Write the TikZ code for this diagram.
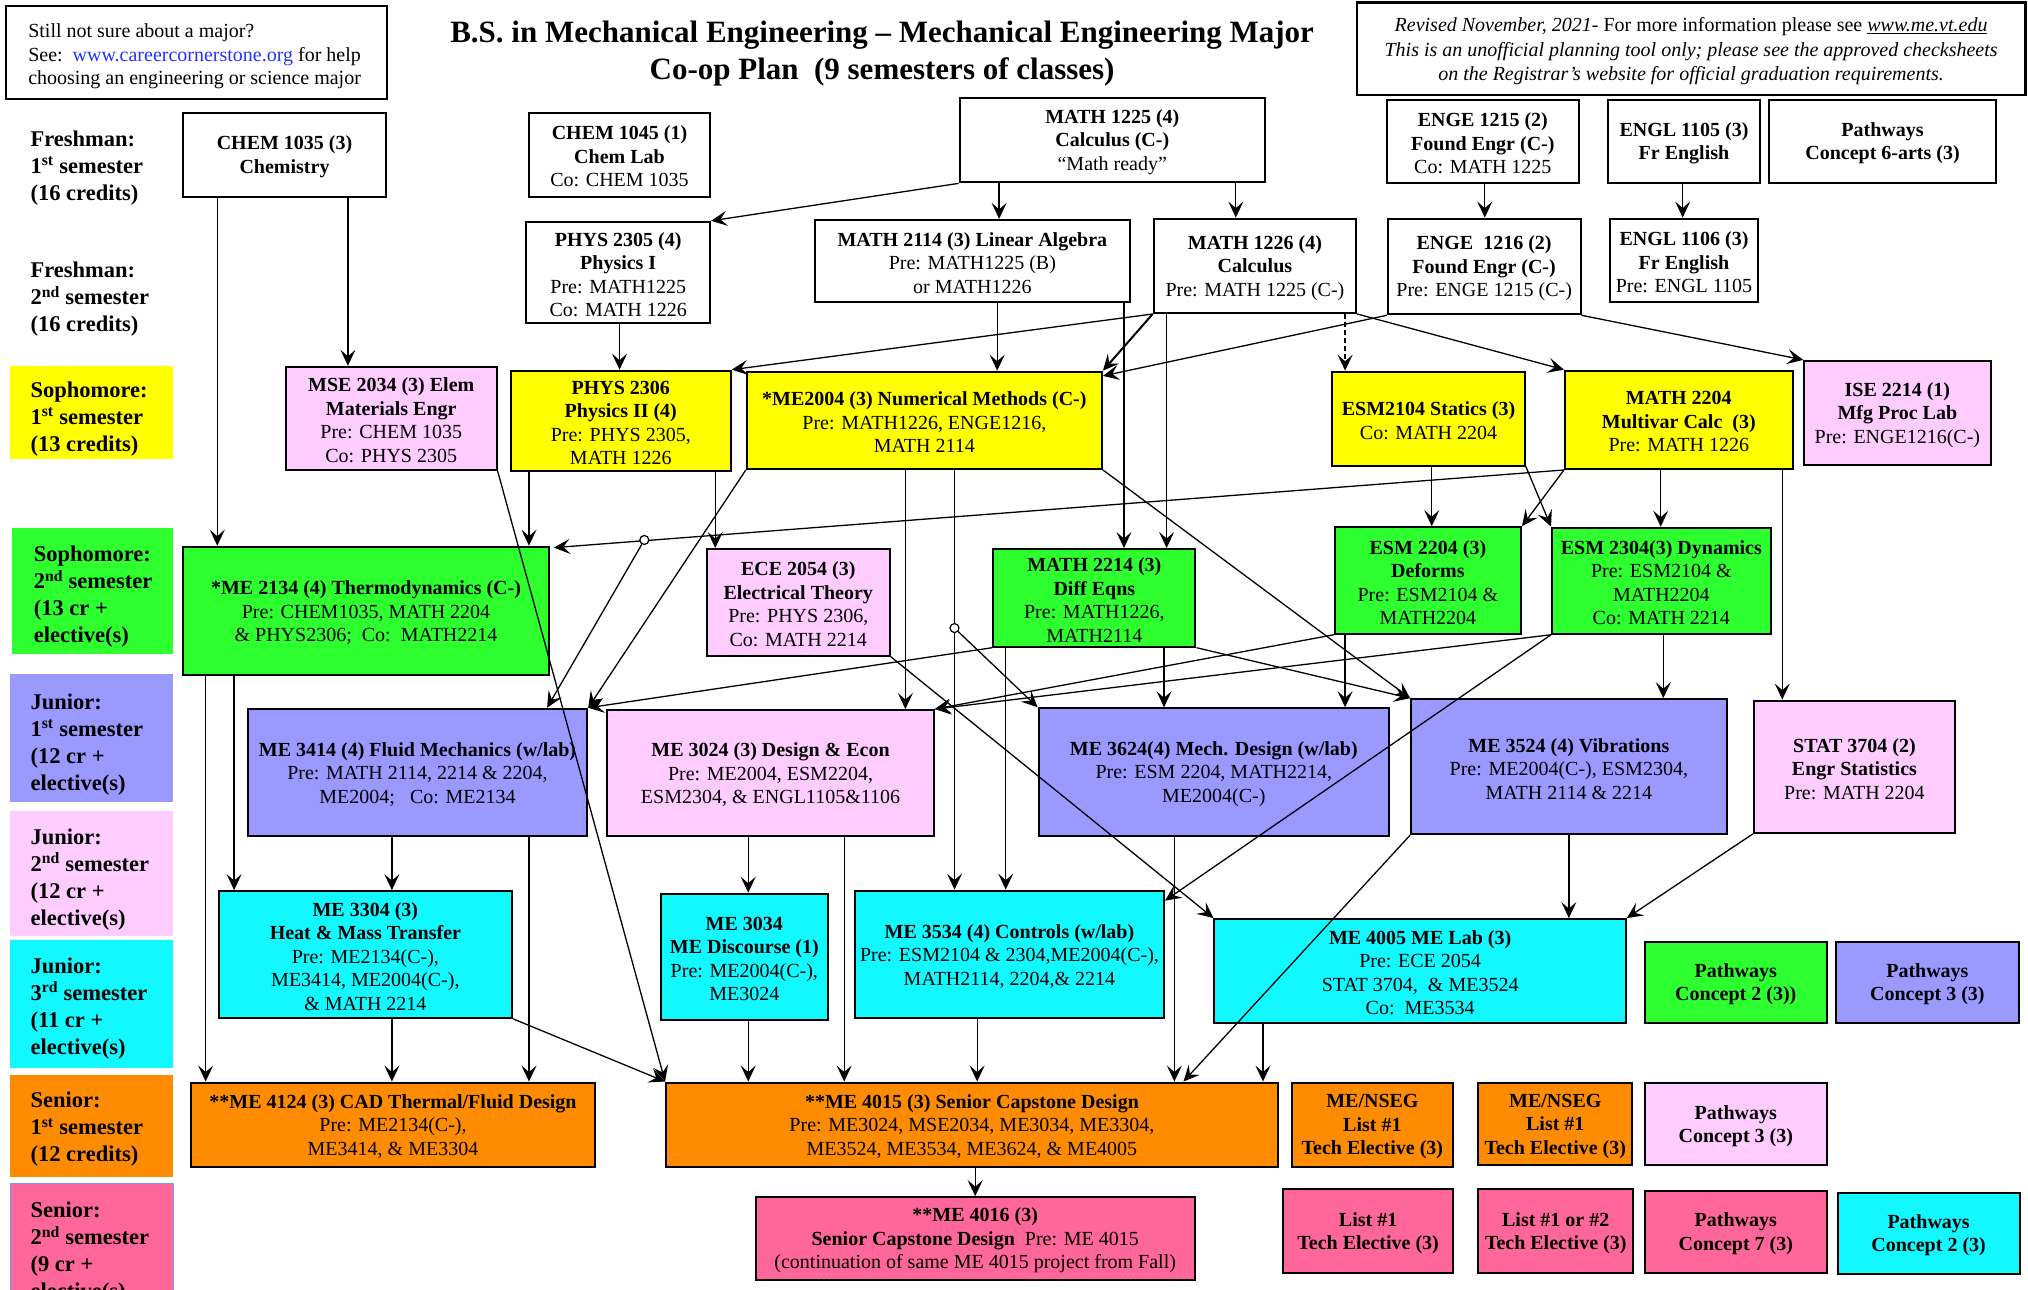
\documentclass[tikz,border=0pt]{standalone}
\usepackage{fontspec}
\setmainfont{Liberation Serif}
\usetikzlibrary{arrows.meta,fit,calc}
\definecolor{cyel}{HTML}{FFFF00}
\definecolor{cgrn}{HTML}{2EFF2E}
\definecolor{cblu}{HTML}{9999FF}
\definecolor{cpnk}{HTML}{FFCCFF}
\definecolor{ccyn}{HTML}{11F9FF}
\definecolor{corg}{HTML}{FF8C00}
\definecolor{cred}{HTML}{FF6699}
\definecolor{clink}{HTML}{2233FF}
\definecolor{cbord}{HTML}{6F9BFF}
\newcommand\fsz{\fontsize{20}{23.5}\selectfont}
\newcommand\lsz{\fontsize{22.5}{27}\selectfont\bfseries}
\newcommand\cbx[5]{\node[cbox,fill=#2,fit={(#3) (#4)}] (#1) {};
  \node[ctext] (#1-t) at (#1.center) {#5};}
\begin{document}
\begin{tikzpicture}[x=1.2934pt,y=-1.2934pt,
  cbox/.style={draw, line width=2pt, inner sep=0pt},
  ctext/.style={inner sep=0pt, align=center, font=\fsz, yshift=-2pt},
  lab/.style={inner sep=0pt, align=left, anchor=west, font=\lsz, yshift=-3pt},
  labbg/.style={inner sep=0pt, draw=none},
  arr/.style={line width=1.3pt, -{Stealth[length=16pt,width=15pt,inset=6.5pt]}},
  hop/.style={circle, draw, fill=white, line width=1.2pt, inner sep=0pt, minimum size=9pt}]
\useasboundingbox (0,0) rectangle (1568,997);
\clip (0,0) rectangle (1568,997);
\fill[white] (0,0) rectangle (1568,997);

% header
\node[cbox, fit={(5,4.6) (299,76.5)}] (info) {};
\node[inner sep=0pt, align=left, anchor=west, font=\fsz, yshift=-4pt] (info-t) at (21.7,40.5) {Still not sure about a major?\\See:\ \ \textcolor{clink}{www.careercornerstone.org} for help\\choosing an engineering or science major};
\node[font=\bfseries\fontsize{31}{37}\selectfont, align=center, yshift=-3pt] (title) at (682,39) {B.S. in Mechanical Engineering -- Mechanical Engineering Major\\Co-op Plan\ \ (9 semesters of classes)};
\node[cbox, line width=2.5pt, fit={(1049,2) (1566,73.5)}] (note) {};
\node[ctext, font=\fontsize{20}{24.5}\selectfont, yshift=-0.5pt] (note-t) at (note.center) {\textit{Revised November, 2021}- For more information please see \underline{\textit{www.me.vt.edu}}\\\textit{This is an unofficial planning tool only; please see the approved checksheets}\\\textit{on the Registrar’s website for official graduation requirements.}};

% semester labels
\node[labbg, fill=cyel, fit={(8,283) (134,355)}] (bg3) {};
\node[labbg, fill=cgrn, fit={(9,408) (134,506)}] (bg4) {};
\node[labbg, fill=cblu, fit={(8,521) (134,620)}] (bg5) {};
\node[labbg, fill=cpnk, fit={(8,627) (134,724)}] (bg6) {};
\node[labbg, fill=ccyn, fit={(8,727) (134,826)}] (bg7) {};
\node[labbg, fill=corg, fit={(8,831) (134,910)}] (bg8) {};
\node[labbg, fill=cred, draw=cbord, line width=1.5pt, fit={(8,915) (134,1010)}] (bg9) {};
\node[lab] (l1) at (23.5,127.5) {Freshman:\\1\textsuperscript{st} semester\\(16 credits)};
\node[lab] (l2) at (23.5,229) {Freshman:\\2\textsuperscript{nd} semester\\(16 credits)};
\node[lab] (l3) at (23.5,321.5) {Sophomore:\\1\textsuperscript{st} semester\\(13 credits)};
\node[lab] (l4) at (26,459) {Sophomore:\\2\textsuperscript{nd} semester\\(13 cr +\\elective(s)};
\node[lab] (l5) at (23.5,573) {Junior:\\1\textsuperscript{st} semester\\(12 cr +\\elective(s)};
\node[lab] (l6) at (23.5,677.5) {Junior:\\2\textsuperscript{nd} semester\\(12 cr +\\elective(s)};
\node[lab] (l7) at (23.5,777.5) {Junior:\\3\textsuperscript{rd} semester\\(11 cr +\\elective(s)};
\node[lab] (l8) at (23.5,871) {Senior:\\1\textsuperscript{st} semester\\(12 credits)};
\node[lab] (l9) at (23.5,966.5) {Senior:\\2\textsuperscript{nd} semester\\(9 cr +\\elective(s)};

% freshman 1
\cbx{chem1035}{white}{141.5,87}{298.5,152}{\textbf{CHEM 1035 (3)}\\\textbf{Chemistry}}
\cbx{chem1045}{white}{409,87}{549,152}{\textbf{CHEM 1045 (1)}\\\textbf{Chem Lab}\\Co: CHEM 1035}
\cbx{math1225}{white}{742,75.5}{978,141}{\textbf{MATH 1225 (4)}\\\textbf{Calculus (C-)}\\“Math ready”}
\cbx{enge1215}{white}{1072,77}{1221,141.5}{\textbf{ENGE 1215 (2)}\\\textbf{Found Engr (C-)}\\Co: MATH 1225}
\cbx{engl1105}{white}{1243,77}{1361,141.5}{\textbf{ENGL 1105 (3)}\\\textbf{Fr English}}
\cbx{path6}{white}{1368,77}{1543,141.5}{\textbf{Pathways}\\\textbf{Concept 6-arts (3)}}
% freshman 2
\cbx{phys2305}{white}{407,171.5}{549,250}{\textbf{PHYS 2305 (4)}\\\textbf{Physics I}\\Pre: MATH1225\\Co: MATH 1226}
\cbx{math2114}{white}{630,170}{873.6,233.5}{\textbf{MATH 2114 (3) Linear Algebra}\\Pre: MATH1225 (B)\\or MATH1226}
\cbx{math1226}{white}{892,169}{1048.6,242}{\textbf{MATH 1226 (4)}\\\textbf{Calculus}\\Pre: MATH 1225 (C-)}
\cbx{enge1216}{white}{1073,169}{1222,243}{\textbf{ENGE\ \ 1216 (2)}\\\textbf{Found Engr (C-)}\\Pre: ENGE 1215 (C-)}
\cbx{engl1106}{white}{1245,169}{1359,233.5}{\textbf{ENGL 1106 (3)}\\\textbf{Fr English}\\Pre: ENGL 1105}
% sophomore 1
\cbx{mse2034}{cpnk}{221,283.6}{384,363.4}{\textbf{MSE 2034 (3) Elem}\\\textbf{Materials Engr}\\Pre: CHEM 1035\\Co: PHYS 2305}
\cbx{phys2306}{cyel}{395,286.6}{565,364}{\textbf{PHYS 2306}\\\textbf{Physics II (4)}\\Pre: PHYS 2305,\\MATH 1226}
\cbx{me2004}{cyel}{577.4,287.4}{852,362.6}{\textbf{*ME2004 (3) Numerical Methods (C-)}\\Pre: MATH1226, ENGE1216,\\MATH 2114}
\cbx{esm2104}{cyel}{1030,287.4}{1179,360}{\textbf{ESM2104 Statics (3)}\\Co: MATH 2204}
\cbx{math2204}{cyel}{1210,286.6}{1386,362.6}{\textbf{MATH 2204}\\\textbf{Multivar Calc\ \ (3)}\\Pre: MATH 1226}
\cbx{ise2214}{cpnk}{1395,279}{1539,359.5}{\textbf{ISE 2214 (1)}\\\textbf{Mfg Proc Lab}\\Pre: ENGE1216(C-)}
% sophomore 2
\cbx{me2134}{cgrn}{141.5,422.7}{424.5,522}{\textbf{*ME 2134 (4) Thermodynamics (C-)}\\Pre: CHEM1035, MATH 2204\\\&\ PHYS2306;\ \ Co:\ \ MATH2214}
\cbx{ece2054}{cpnk}{546.4,424.5}{688,507}{\textbf{ECE 2054 (3)}\\\textbf{Electrical Theory}\\Pre: PHYS 2306,\\Co: MATH 2214}
\cbx{math2214}{cgrn}{768,424.5}{924.3,500}{\textbf{MATH 2214 (3)}\\\textbf{Diff Eqns}\\Pre: MATH1226,\\MATH2114}
\cbx{esm2204}{cgrn}{1032,407.6}{1176,490}{\textbf{ESM 2204 (3)}\\\textbf{Deforms}\\Pre: ESM2104 \&\\MATH2204}
\cbx{esm2304}{cgrn}{1200,408}{1369,490}{\textbf{ESM 2304(3) Dynamics}\\Pre: ESM2104 \&\\MATH2204\\Co: MATH 2214}
% junior 1
\cbx{me3414}{cblu}{191.6,548}{454,646}{\textbf{ME 3414 (4) Fluid Mechanics (w/lab)}\\Pre: MATH 2114, 2214 \& 2204,\\ME2004;\ \ \ Co: ME2134}
\cbx{me3024}{cpnk}{469.5,549}{722,646}{\textbf{ME 3024 (3) Design \& Econ}\\Pre: ME2004, ESM2204,\\ESM2304, \& ENGL1105\&1106}
\cbx{me3624}{cblu}{803,547.6}{1074,646}{\textbf{ME 3624(4) Mech. Design (w/lab)}\\Pre: ESM 2204, MATH2214,\\ME2004(C-)}
\cbx{me3524}{cblu}{1091,540.6}{1335,645}{\textbf{ME 3524 (4) Vibrations}\\Pre: ME2004(C-), ESM2304,\\MATH 2114 \& 2214}
\cbx{stat3704}{cpnk}{1356,541.7}{1511.6,644}{\textbf{STAT 3704 (2)}\\\textbf{Engr Statistics}\\Pre: MATH 2204}
% junior 3
\cbx{me3304}{ccyn}{169,689}{396,787}{\textbf{ME 3304 (3)}\\\textbf{Heat \& Mass Transfer}\\Pre: ME2134(C-),\\ME3414, ME2004(C-),\\\& MATH 2214}
\cbx{me3034}{ccyn}{511,691}{640,789}{\textbf{ME 3034}\\\textbf{ME Discourse (1)}\\Pre: ME2004(C-),\\ME3024}
\cbx{me3534}{ccyn}{661,688.6}{900,787}{\textbf{ME 3534 (4) Controls (w/lab)}\\Pre: ESM2104 \& 2304,ME2004(C-),\\MATH2114, 2204,\& 2214}
\cbx{me4005}{ccyn}{939,710.6}{1257,790.7}{\textbf{ME 4005 ME Lab (3)}\\Pre: ECE 2054\\STAT 3704,\ \ \& ME3524\\Co:\ \ ME3534}
\cbx{pc2g}{cgrn}{1271.5,728}{1412.6,790.7}{\textbf{Pathways}\\\textbf{Concept 2 (3))}}
\cbx{pc3b}{cblu}{1419.6,728}{1560.8,790.7}{\textbf{Pathways}\\\textbf{Concept 3 (3)}}
% senior 1
\cbx{me4124}{corg}{147.7,837}{460,902}{\textbf{**ME 4124 (3) CAD Thermal/Fluid Design}\\Pre: ME2134(C-),\\ME3414, \& ME3304}
\cbx{me4015}{corg}{515,837}{988,902}{\textbf{**ME 4015 (3) Senior Capstone Design}\\Pre: ME3024, MSE2034, ME3034, ME3304,\\ME3524, ME3534, ME3624, \& ME4005}
\cbx{tea}{corg}{998.6,837}{1123.6,902}{\textbf{ME/NSEG}\\\textbf{List \#1}\\\textbf{Tech Elective (3)}}
\cbx{teb}{corg}{1143,837.6}{1262,900.7}{\textbf{ME/NSEG}\\\textbf{List \#1}\\\textbf{Tech Elective (3)}}
\cbx{pc3p}{cpnk}{1271.5,837.6}{1412.6,900.7}{\textbf{Pathways}\\\textbf{Concept 3 (3)}}
% senior 2
\cbx{me4016}{cred}{584.4,925.6}{923.6,989.7}{\textbf{**ME 4016 (3)}\\\textbf{Senior Capstone Design}\ \ Pre: ME 4015\\(continuation of same ME 4015 project from Fall)}
\cbx{tec}{cred}{992,919.5}{1123.6,984}{\textbf{List \#1}\\\textbf{Tech Elective (3)}}
\cbx{ted}{cred}{1143,919.5}{1262.7,984}{\textbf{List \#1 or \#2}\\\textbf{Tech Elective (3)}}
\cbx{pc7}{cred}{1271.5,920.6}{1412.6,984}{\textbf{Pathways}\\\textbf{Concept 7 (3)}}
\cbx{pc2c}{ccyn}{1420.8,922}{1561.5,985}{\textbf{Pathways}\\\textbf{Concept 2 (3)}}

% connectors
\draw[arr] (chem1035.south -| 168,0) -- (me2134.north -| 168,0);
\draw[arr] (chem1035.south -| 269,0) -- (mse2034.north -| 269,0);
\draw[arr] (math1225.south west) -- (phys2305.north east);
\draw[arr] (math1225.south -| 772.5,0) -- (math2114.north -| 772.5,0);
\draw[arr] (math1225.south -| 955.5,0) -- (math1226.north -| 955.5,0);
\draw[arr] (enge1215.south -| 1148,0) -- (enge1216.north -| 1148,0);
\draw[arr] (engl1105.south -| 1301,0) -- (engl1106.north -| 1301,0);
\draw[arr] (phys2305.south -| 479,0) -- (phys2306.north -| 479,0);
\draw[arr] (math2114.south -| 771,0) -- (me2004.north -| 771,0);
\draw[arr] (math1226.south west) -- (phys2306.north east);
\draw[arr, line width=2pt] (math1226.south west) -- (me2004.north east);
\draw[arr] (enge1216.south west) -- ($(me2004.north east)+(0,4)$);
\draw[arr, dash pattern=on 5pt off 3pt] (math1226.south -| 1040,0) -- (esm2104.north -| 1040,0);
\draw[arr] (math2114.south -| 869,0) -- (math2214.north -| 869,0);
\draw[arr] (math1226.south -| 902,0) -- (math2214.north -| 902,0);
\draw[arr] (math1226.south east) -- (math2204.north west);
\draw[arr] (enge1216.south east) -- (ise2214.north west);
\draw[arr] (mse2034.south east) -- (me4015.north west);
\draw[arr] (phys2306.south -| 409,0) -- (me2134.north -| 409,0);
\draw[arr] (phys2306.south -| 553,0) -- (ece2054.north -| 553,0);
\draw[arr] (me2004.south west) -- (me3414.north east);
\draw[arr] (me2004.south -| 700,0) -- (me3024.north -| 700,0);
\draw[arr] (me2004.south -| 738,0) -- (me3534.north -| 738,0);
\node[hop] (h2) at (738,485.6) {};
\draw[arr] (h2) -- (me3624.north west);
\draw[arr] (math2214.south -| 777.6,0) -- (me3534.north -| 777.6,0);
\draw[arr] (me2004.south east) -- (me3524.north west);
\draw[arr] (math2204.south west) -- ($(me2134.north east)+(3,1.5)$);
\node[hop] (h1) at ($(math2204.south west)!0.907!(me2134.north east)+(0,1)$) {};
\draw[arr] (h1) -- (me3414.north -| 423,0);
\draw[arr] (math2204.south west) -- (esm2204.north east);
\draw[arr] (esm2104.south east) -- (esm2304.north west);
\draw[arr] (esm2104.south -| 1107,0) -- (esm2204.north -| 1107,0);
\draw[arr] (math2204.south -| 1284,0) -- (esm2304.north -| 1284,0);
\draw[arr] (math2204.south -| 1378,0) -- (stat3704.north -| 1378,0);
\draw[arr] (me2134.south -| 159,0) -- (me4124.north -| 159,0);
\draw[arr] (me2134.south -| 181,0) -- (me3304.north -| 181,0);
\draw[arr] (me3414.south -| 303,0) -- (me3304.north -| 303,0);
\draw[arr] (me3414.south -| 409,0) -- (me4124.north -| 409,0);
\draw[arr] (me3304.south -| 303,0) -- (me4124.north -| 303,0);
\draw[arr] (me3304.south east) -- (me4015.north west);
\draw[arr] (me3024.south -| 578.5,0) -- (me3034.north -| 578.5,0);
\draw[arr] (me3024.south -| 652.7,0) -- (me4015.north -| 652.7,0);
\draw[arr] (me3034.south -| 578.5,0) -- (me4015.north -| 578.5,0);
\draw[arr] (me3534.south -| 755.5,0) -- (me4015.north -| 755.5,0);
\draw[arr] (me4015.south -| 754,0) -- (me4016.north -| 754,0);
\draw[arr] (me3624.south -| 908,0) -- (me4015.north -| 908,0);
\draw[arr] (me4005.south -| 976.5,0) -- (me4015.north -| 976.5,0);
\draw[arr] (esm2304.south west) -- (me3024.north east);
\draw[arr] (esm2304.south west) -- ($(me3534.north east)+(0,8.5)$);
\draw[arr] (esm2304.south -| 1286,0) -- (me3524.north -| 1286,0);
\draw[arr] (esm2204.south west) -- (me3024.north east);
\draw[arr] (esm2204.south -| 1040,0) -- (me3624.north -| 1040,0);
\draw[arr] (math2214.south west) -- (me3414.north east);
\draw[arr] (math2214.south -| 900,0) -- (me3624.north -| 900,0);
\draw[arr] (math2214.south east) -- (me3524.north west);
\draw[arr] (ece2054.south east) -- (me4005.north west);
\draw[arr] (me3524.south -| 1213,0) -- (me4005.north -| 1213,0);
\draw[arr] (me3524.south west) -- (me4015.north -| 915,0);
\draw[arr] (stat3704.south west) -- (me4005.north east);
\end{tikzpicture}
\end{document}
